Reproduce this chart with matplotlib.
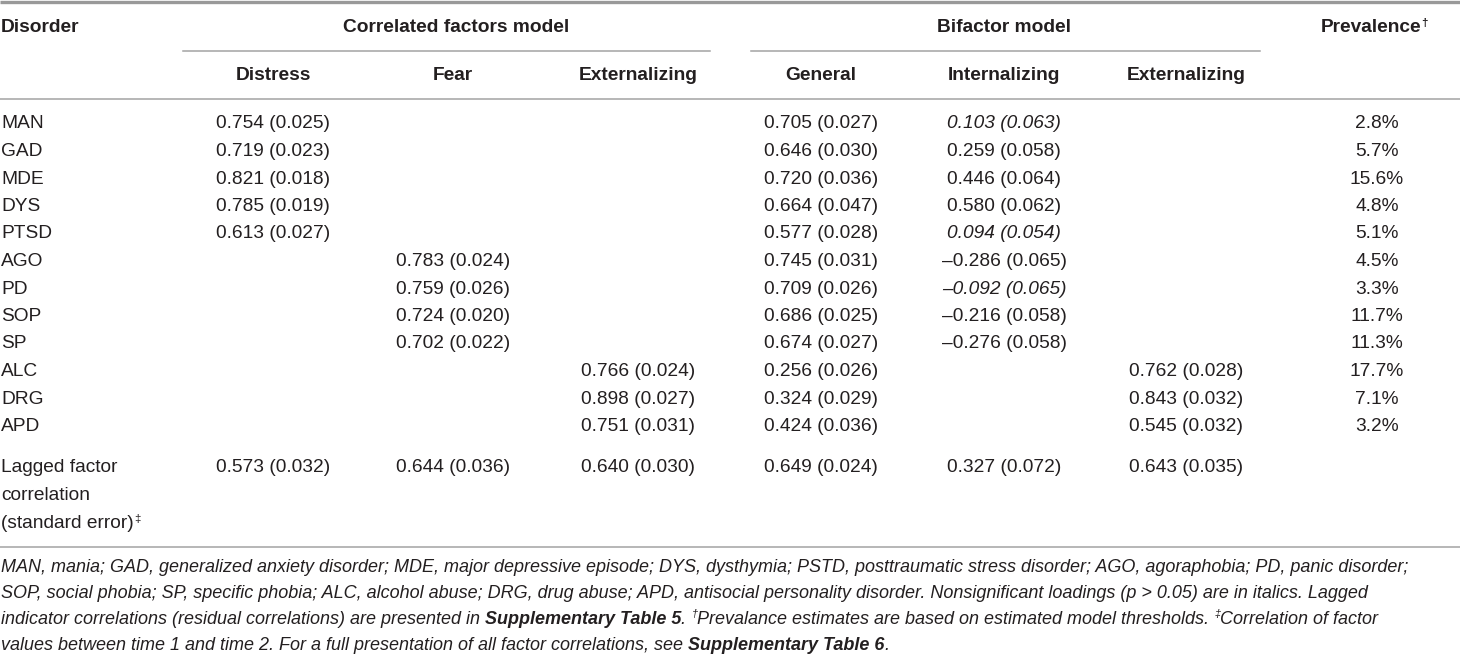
import matplotlib
matplotlib.use("Agg")
import matplotlib.pyplot as plt

# table data (loading, standard error); None = empty cell
disorders = ["MAN", "GAD", "MDE", "DYS", "PTSD", "AGO", "PD", "SOP", "SP", "ALC", "DRG", "APD"]

cf_distress = [0.754, 0.719, 0.821, 0.785, 0.613, None, None, None, None, None, None, None]
cf_distress_se = [0.025, 0.023, 0.018, 0.019, 0.027, None, None, None, None, None, None, None]
cf_fear = [None, None, None, None, None, 0.783, 0.759, 0.724, 0.702, None, None, None]
cf_fear_se = [None, None, None, None, None, 0.024, 0.026, 0.020, 0.022, None, None, None]
cf_ext = [None] * 9 + [0.766, 0.898, 0.751]
cf_ext_se = [None] * 9 + [0.024, 0.027, 0.031]

bf_general = [0.705, 0.646, 0.720, 0.664, 0.577, 0.745, 0.709, 0.686, 0.674, 0.256, 0.324, 0.424]
bf_general_se = [0.027, 0.030, 0.036, 0.047, 0.028, 0.031, 0.026, 0.025, 0.027, 0.026, 0.029, 0.036]
bf_int = [0.103, 0.259, 0.446, 0.580, 0.094, -0.286, -0.092, -0.216, -0.276, None, None, None]
bf_int_se = [0.063, 0.058, 0.064, 0.062, 0.054, 0.065, 0.065, 0.058, 0.058, None, None, None]
bf_int_nonsig = [True, False, False, False, True, False, True, False, False, False, False, False]
bf_ext = [None] * 9 + [0.762, 0.843, 0.545]
bf_ext_se = [None] * 9 + [0.028, 0.032, 0.032]

prevalence = [2.8, 5.7, 15.6, 4.8, 5.1, 4.5, 3.3, 11.7, 11.3, 17.7, 7.1, 3.2]

lagged = [0.573, 0.644, 0.640, 0.649, 0.327, 0.643]
lagged_se = [0.032, 0.036, 0.030, 0.024, 0.072, 0.035]

sub_headers = ["Distress", "Fear", "Externalizing", "General", "Internalizing", "Externalizing"]

TXT = "#231f20"
LINE = "#a3a3a3"
FS = 13.8
FONT = "Liberation Sans"

fig = plt.figure(figsize=(14.6, 6.55), dpi=100)
ax = fig.add_axes([0, 0, 1, 1])
ax.set_xlim(0, 1460)
ax.set_ylim(655, 0)
ax.axis("off")
renderer = fig.canvas.get_renderer()


def fmt(v, se):
    return f"{v:.3f} ({se:.3f})".replace("-", "\u2013")


def put(x, y, s, ha="center", weight="normal", style="normal", size=FS):
    return ax.text(x, y, s, ha=ha, va="center", fontsize=size, color=TXT,
                   family=FONT, fontweight=weight, fontstyle=style)


def width(t):
    bb = t.get_window_extent(renderer)
    return bb.width


def draw_runs(x, y, runs, size):
    # runs of (text, kind): i = italic, bi = bold italic, sup = superscript
    for s, kind in runs:
        if kind == "sup":
            t = ax.text(x, y - 5, s, ha="left", va="center", fontsize=size * 0.6,
                        color=TXT, family=FONT, fontstyle="italic")
        else:
            t = ax.text(x, y, s, ha="left", va="center", fontsize=size, color=TXT,
                        family=FONT, fontstyle="italic",
                        fontweight="bold" if kind == "bi" else "normal")
        x += width(t)


# column positions
col_x = [273, 453, 638, 821, 1004, 1186]
prev_x = 1377
row_y0, row_dy = 124, 27.5

# rules
ax.plot([0, 1460], [1.5, 1.5], color="#999999", lw=2.4, solid_capstyle="butt")
ax.plot([183, 710], [51, 51], color=LINE, lw=1.1)
ax.plot([751, 1260], [51, 51], color=LINE, lw=1.1)
ax.plot([0, 1460], [99, 99], color=LINE, lw=1.1)
ax.plot([0, 1460], [547, 547], color=LINE, lw=1.1)

# headers
put(1, 27, "Disorder", ha="left", weight="bold")
put(456, 27, "Correlated factors model", weight="bold")
put(1004, 27, "Bifactor model", weight="bold")
tp = put(1321, 27, "Prevalence", ha="left", weight="bold")
ax.text(1321 + width(tp), 23, "\u2020", ha="left", va="center", fontsize=FS * 0.6,
        color=TXT, family=FONT, fontweight="bold")
for x, h in zip(col_x, sub_headers):
    put(x, 75, h, weight="bold")

# body
columns = [(cf_distress, cf_distress_se), (cf_fear, cf_fear_se), (cf_ext, cf_ext_se),
           (bf_general, bf_general_se), (bf_int, bf_int_se), (bf_ext, bf_ext_se)]
for i, name in enumerate(disorders):
    y = row_y0 + i * row_dy
    put(1, y, name, ha="left")
    for c, (vals, ses) in enumerate(columns):
        if vals[i] is None:
            continue
        italic = c == 4 and bf_int_nonsig[i]
        put(col_x[c], y, fmt(vals[i], ses[i]), style="italic" if italic else "normal")
    put(prev_x, y, f"{prevalence[i]:.1f}%")

# lagged factor correlations
y_lag = 468
put(1, y_lag, "Lagged factor", ha="left")
put(1, y_lag + 27.5, "correlation", ha="left")
ts = put(1, y_lag + 55, "(standard error)", ha="left")
ax.text(1 + width(ts), y_lag + 51, "\u2021", ha="left", va="center",
        fontsize=FS * 0.6, color=TXT, family=FONT)
for c in range(6):
    put(col_x[c], y_lag, fmt(lagged[c], lagged_se[c]))

# footnote
FN = 13.0
notes = [
    [("MAN, mania; GAD, generalized anxiety disorder; MDE, major depressive episode; DYS, dysthymia; "
      "PSTD, posttraumatic stress disorder; AGO, agoraphobia; PD, panic disorder;", "i")],
    [("SOP, social phobia; SP, specific phobia; ALC, alcohol abuse; DRG, drug abuse; APD, antisocial "
      "personality disorder. Nonsignificant loadings (p > 0.05) are in italics. Lagged", "i")],
    [("indicator correlations (residual correlations) are presented in ", "i"),
     ("Supplementary Table 5", "bi"), (". ", "i"), ("\u2020", "sup"),
     ("Prevalance estimates are based on estimated model thresholds. ", "i"),
     ("\u2021", "sup"), ("Correlation of factor", "i")],
    [("values between time 1 and time 2. For a full presentation of all factor correlations, see ", "i"),
     ("Supplementary Table 6", "bi"), (".", "i")],
]
for k, runs in enumerate(notes):
    draw_runs(1, 567 + k * 26, runs, FN)

fig.savefig("out.png", dpi=100)
